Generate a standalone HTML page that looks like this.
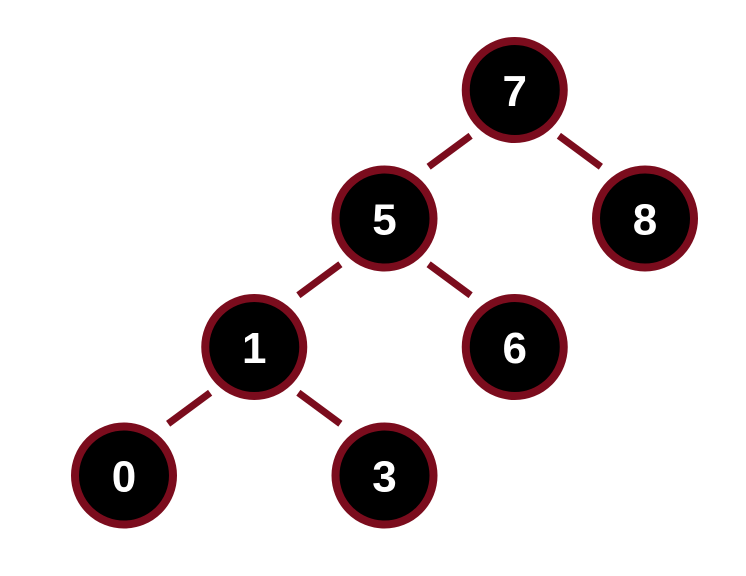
<!DOCTYPE html>
<html><head><meta charset="utf-8"><style>
html,body{margin:0;padding:0;background:#fff;}
svg{display:block;}
</style></head><body>
<svg id="tree" width="746" height="576" viewBox="0 0 746 576" xmlns="http://www.w3.org/2000/svg"></svg>
<script>
const insertOrder = [7, 5, 8, 1, 6, 0, 3];
const originX = 124, colStep = 130.25, originY = 90, rowStep = 128.5;
const R = 49, strokeW = 8, color = "#7b0c1d";
const svg = document.getElementById('tree');
const NS = "http://www.w3.org/2000/svg";
let root = null;
function insert(v){
  const n = {v, left:null, right:null};
  if(!root){root=n; n.col=3; n.depth=0; return;}
  let c = root;
  while(true){
    if(v < c.v){ if(!c.left){c.left=n; n.col=c.col-1; n.depth=c.depth+1; n.parent=c; return;} c=c.left; }
    else { if(!c.right){c.right=n; n.col=c.col+1; n.depth=c.depth+1; n.parent=c; return;} c=c.right; }
  }
}
insertOrder.forEach(insert);
const nodes = [];
(function walk(n){ if(!n) return; nodes.push(n); walk(n.left); walk(n.right); })(root);
nodes.forEach(n=>{ n.x = originX + colStep*n.col; n.y = originY + rowStep*n.depth; });
nodes.forEach(n=>{
  if(!n.parent) return;
  const p = n.parent;
  const mx = (p.x+n.x)/2, my = (p.y+n.y)/2 - 3;
  const sx = Math.sign(n.x-p.x);
  const l = document.createElementNS(NS,'line');
  l.setAttribute('x1', mx - sx*21); l.setAttribute('y1', my - 15.5);
  l.setAttribute('x2', mx + sx*21); l.setAttribute('y2', my + 15.5);
  l.setAttribute('stroke', color); l.setAttribute('stroke-width', 7);
  
  
  svg.appendChild(l);
});
nodes.forEach(n=>{
  const g = document.createElementNS(NS,'g');
  
  
  const c = document.createElementNS(NS,'circle');
  c.setAttribute('cx', n.x); c.setAttribute('cy', n.y); c.setAttribute('r', R);
  c.setAttribute('fill', '#000'); c.setAttribute('stroke', color); c.setAttribute('stroke-width', strokeW);
  
  
  const t = document.createElementNS(NS,'text');
  t.setAttribute('x', n.x); t.setAttribute('y', n.y + 16);
  t.setAttribute('text-anchor', 'middle'); t.setAttribute('fill', '#fff');
  t.setAttribute('font-family', 'Liberation Sans, sans-serif');
  t.setAttribute('font-weight', 'bold'); t.setAttribute('font-size', '44');
  
  
  t.textContent = n.v;
  g.appendChild(c); g.appendChild(t); svg.appendChild(g);
});
</script>
</body></html>
